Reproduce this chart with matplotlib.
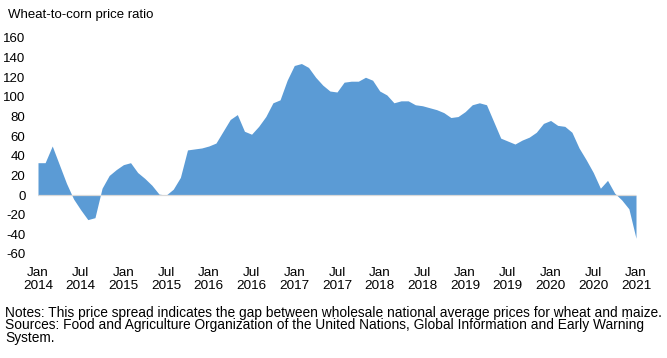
import matplotlib
matplotlib.use("Agg")
import matplotlib.pyplot as plt
import numpy as np

plt.rcParams['font.family'] = ['Liberation Sans', 'DejaVu Sans']

title = "Wheat-to-corn price ratio"
months = list(range(85))  # Jan 2014 .. Jan 2021, monthly index
ratio = [33, 33, 50, 31, 12, -4, -15, -25, -23, 7,
         20, 26, 31, 33, 23, 17, 10, 1, 0, 6,
         18, 46, 47, 48, 50, 53, 65, 77, 82, 65,
         62, 70, 80, 94, 97, 117, 132, 134, 130, 120,
         112, 106, 105, 115, 116, 116, 120, 117, 106, 102,
         94, 96, 96, 92, 91, 89, 87, 84, 79, 80,
         85, 92, 94, 92, 75, 58, 55, 52, 56, 59,
         64, 73, 76, 71, 70, 64, 48, 36, 23, 7,
         15, 2, -5, -14, -44]
xtick_pos = list(range(0, 85, 6))
xtick_labels = ["Jan\n2014", "Jul\n2014", "Jan\n2015", "Jul\n2015", "Jan\n2016",
                "Jul\n2016", "Jan\n2017", "Jul\n2017", "Jan\n2018", "Jul\n2018",
                "Jan\n2019", "Jul\n2019", "Jan\n2020", "Jul\n2020", "Jan\n2021"]
yticks = [-60, -40, -20, 0, 20, 40, 60, 80, 100, 120, 140, 160]
notes = ("Notes: This price spread indicates the gap between wholesale national average prices for wheat and maize.\n"
         "Sources: Food and Agriculture Organization of the United Nations, Global Information and Early Warning\n"
         "System.")

W, H = 667, 358
fig = plt.figure(figsize=(W / 100, H / 100), dpi=100)
left, right, top, bottom = 38, 636, 38, 254
ax = fig.add_axes([left / W, 1 - bottom / H, (right - left) / W, (bottom - top) / H])

ax.fill_between(months, ratio, 0, color='#5b9bd5', linewidth=0)
ax.axhline(0, color='#d9d9d9', lw=0.9, zorder=3)

ax.set_xlim(0, 84)
ax.set_ylim(-60, 160)
ax.set_xticks(xtick_pos)
ax.set_xticklabels(xtick_labels, fontsize=9.7, linespacing=1.2)
ax.set_yticks(yticks)
ax.set_yticklabels([str(v) for v in yticks], fontsize=9.5)
ax.tick_params(axis='both', length=0)
ax.tick_params(axis='y', pad=9)
ax.tick_params(axis='x', pad=9)
for s in ax.spines.values():
    s.set_visible(False)

fig.text(8 / W, 1 - 15 / H, title, fontsize=9.5, va='center', ha='left')
fig.text(5 / W, 1 - 306 / H, notes, fontsize=9.9, va='top', ha='left', linespacing=0.86)

fig.savefig("out.png", dpi=100)
